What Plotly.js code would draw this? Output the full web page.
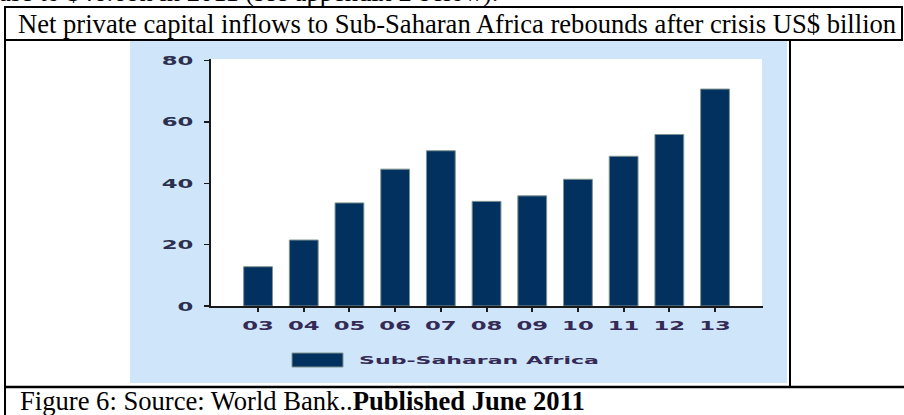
<!DOCTYPE html>
<html>
<head>
<meta charset="utf-8">
<script src="https://cdn.plot.ly/plotly-3.0.1.min.js"></script>
<style>
  html, body { margin: 0; padding: 0; background: #ffffff; overflow: hidden; }
  #chart { width: 904px; height: 415px; }
</style>
</head>
<body>
<div id="chart"></div>
<script>
// ---- data ----
const years = ['03', '04', '05', '06', '07', '08', '09', '10', '11', '12', '13'];
const inflows = [12.8, 21.5, 33.6, 44.6, 50.6, 34.1, 35.9, 41.3, 48.8, 55.9, 70.7];
const seriesName = 'Sub-Saharan Africa';
const yTicks = [0, 20, 40, 60, 80];
const titleText = 'Net private capital inflows to Sub-Saharan Africa rebounds after crisis US$ billion';
const captionText = 'Figure 6: Source: World Bank..<b>Published June 2011</b>';
const aboveText = 'ase to $46.6bn in 2011 (see appendix 2 below).';

// ---- pixel helpers (figure is 904 x 415, zero margins) ----
const W = 904, H = 415;
const px = x => x / W;
const py = y => 1 - y / H;

const navy = '#02305f';
const lblColor = '#352a55';

const trace = {
  type: 'bar',
  x: years,
  y: inflows,
  name: seriesName,
  marker: { color: navy, line: { color: '#7f9490', width: 1 } },
  showlegend: false,
  hoverinfo: 'skip'
};

function line(x0, y0, x1, y1, w) {
  return { type: 'line', xref: 'paper', yref: 'paper', x0: px(x0), y0: py(y0), x1: px(x1), y1: py(y1),
           line: { color: '#000000', width: w || 2 }, layer: 'above' };
}

const shapes = [
  // light blue chart panel
  { type: 'rect', xref: 'paper', yref: 'paper', x0: px(130), x1: px(787), y0: py(383), y1: py(41),
    fillcolor: '#cfe5fa', line: { width: 0 }, layer: 'below' },
  // white plotting area
  { type: 'rect', xref: 'paper', yref: 'paper', x0: px(211), x1: px(762), y0: py(306), y1: py(59),
    fillcolor: '#ffffff', line: { width: 0 }, layer: 'below' },
  // legend swatch
  { type: 'rect', xref: 'paper', yref: 'paper', x0: px(292), x1: px(343), y0: py(367), y1: py(353),
    fillcolor: navy, line: { color: '#7f9490', width: 1 }, layer: 'above' },
  // table borders
  line(5, 7, 902, 7),
  line(5, 40, 902, 40),
  line(5, 6, 5, 415),
  line(902, 6, 902, 41),
  line(790, 40, 790, 388),
  line(5, 387, 904, 387, 2.5)
];

const annotations = [
  { xref: 'paper', yref: 'paper', x: px(-3), y: py(-8), xanchor: 'left', yanchor: 'middle',
    text: aboveText, showarrow: false, font: { family: 'Liberation Serif', size: 26.5, color: '#000' } },
  { xref: 'paper', yref: 'paper', x: px(457), y: py(24), xanchor: 'center', yanchor: 'middle',
    text: titleText, showarrow: false, font: { family: 'Liberation Serif', size: 26.6, color: '#000' } },
  { xref: 'paper', yref: 'paper', x: px(357), y: py(360), xanchor: 'left', yanchor: 'middle',
    text: seriesName, showarrow: false, font: { family: 'DejaVu Sans', size: 11, color: lblColor, weight: 'bold' } },
  { xref: 'paper', yref: 'paper', x: px(18), y: py(401), xanchor: 'left', yanchor: 'middle',
    text: captionText, showarrow: false, font: { family: 'Liberation Serif', size: 26.6, color: '#000' } }
];

const layout = {
  width: W, height: H,
  margin: { l: 0, r: 0, t: 0, b: 0, pad: 0 },
  paper_bgcolor: '#ffffff',
  plot_bgcolor: 'rgba(0,0,0,0)',
  bargap: 0.37,
  showlegend: false,
  xaxis: {
    type: 'category',
    domain: [px(211), px(763)],
    range: [-1.03, 11.05],
    showline: true, linecolor: '#1a1a1a', linewidth: 2,
    ticks: 'outside', ticklen: 4, tickwidth: 2, tickcolor: '#1a1a1a',
    ticklabelstandoff: 2,
    showgrid: false, zeroline: false,
    tickfont: { family: 'DejaVu Sans', size: 13, color: lblColor, weight: 'bold' },
    fixedrange: true
  },
  yaxis: {
    domain: [py(306), py(59)],
    range: [0, 80.5],
    tickmode: 'array', tickvals: yTicks, ticktext: yTicks.map(String),
    showline: true, linecolor: '#1a1a1a', linewidth: 2,
    ticks: 'outside', ticklen: 5, tickwidth: 1.5, tickcolor: '#1a1a1a',
    ticklabelstandoff: 8,
    showgrid: false, zeroline: false,
    tickfont: { family: 'DejaVu Sans', size: 13, color: '#2c2f4e', weight: 'bold' },
    fixedrange: true
  },
  shapes: shapes,
  annotations: annotations
};

function stretch(nodes, sx, anchor, targetW) {
  nodes.forEach(t => {
    if (t.getAttribute('data-st')) return;
    const b = t.getBBox();
    const s = targetW ? targetW / b.width : sx;
    const cx = anchor === 'end' ? b.x + b.width : (anchor === 'start' ? b.x : b.x + b.width / 2);
    const tr = t.getAttribute('transform') || '';
    t.setAttribute('transform', tr + ' translate(' + cx + ',0) scale(' + s + ',1) translate(' + (-cx) + ',0)');
    t.setAttribute('data-st', '1');
  });
}

Plotly.newPlot('chart', [trace], layout, { staticPlot: true, displayModeBar: false }).then(gd => {
  try {
    stretch(Array.from(gd.querySelectorAll('.xtick text')), 1.75, 'middle');
    stretch(Array.from(gd.querySelectorAll('.ytick text')), 1.75, 'end');
    const leg = gd.querySelectorAll('g.annotation[data-index="2"] text');
    stretch(Array.from(leg), 1.8, 'start', 240);
  } catch (e) { console.log(e); }
});
</script>
</body>
</html>
